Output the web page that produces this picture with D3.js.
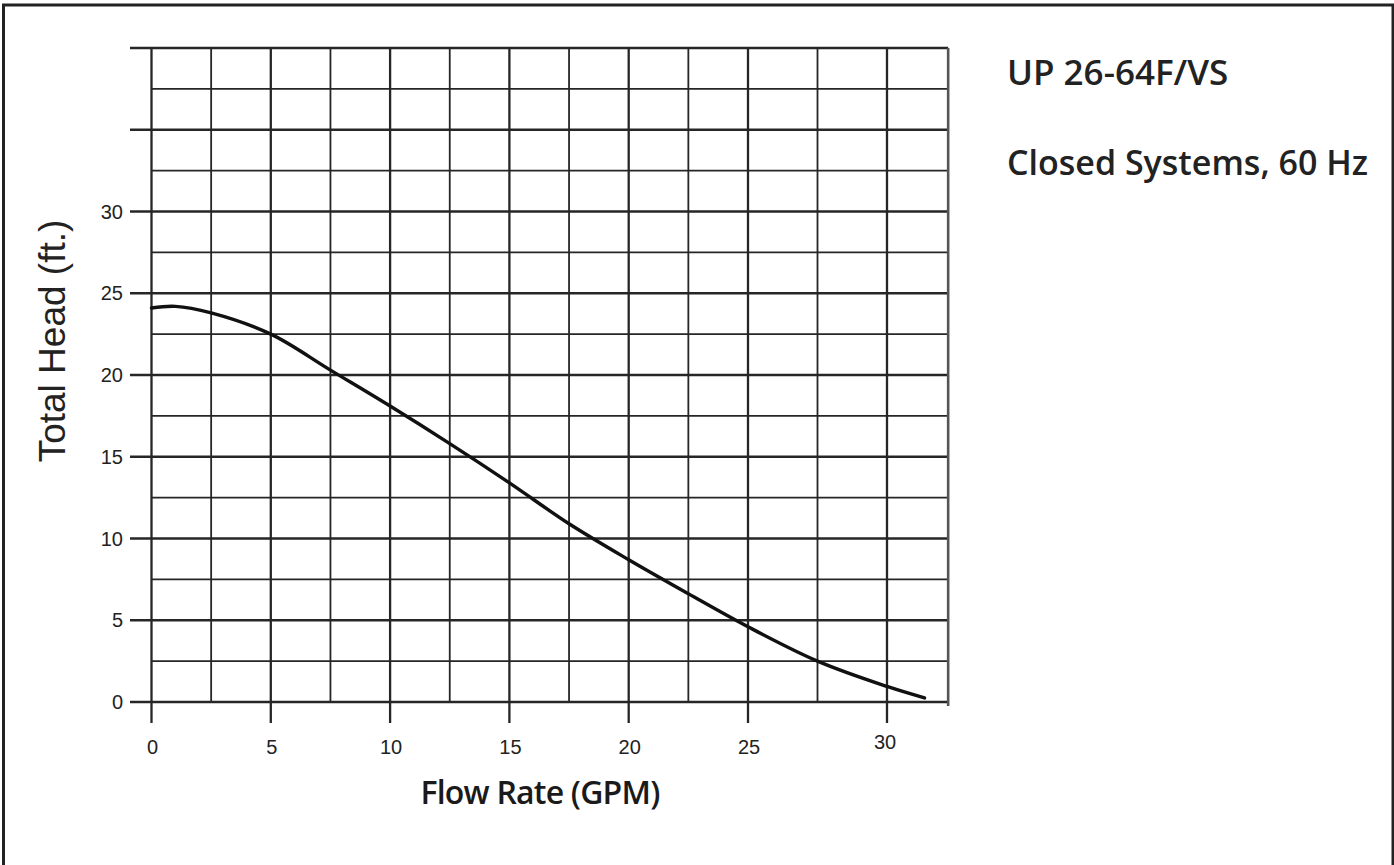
<!DOCTYPE html>
<html><head><meta charset="utf-8">
<script src="https://cdn.jsdelivr.net/npm/d3@7"></script>
<style>html,body{margin:0;padding:0;background:#fff;overflow:hidden}</style>
</head><body><svg id="chart" width="1394" height="865"></svg>
<script>
// ---- data ----
const flowGPM = [0, 1, 2.5, 5, 7.5, 10, 12.5, 15, 17.5, 20, 22.5, 25, 27.5, 30, 31.35];
const headFt  = [24.1, 24.2, 23.8, 22.5, 20.3, 18.1, 15.8, 13.4, 10.9, 8.7, 6.62, 4.6, 2.5, 0.95, 0.25];
const xTickValues = [0, 5, 10, 15, 20, 25, 30];
const xTickLabels = ["0", "5", "10", "15", "20", "25", "30"];
const yTickValues = [0, 5, 10, 15, 20, 25, 30];
const yTickLabels = ["0", "5", "10", "15", "20", "25", "30"];
const xGridValues = [0, 2.5, 5, 7.5, 10, 12.5, 15, 17.5, 20, 22.5, 25, 27.5, 30];
const yGridValues = [0, 2.5, 5, 7.5, 10, 12.5, 15, 17.5, 20, 22.5, 25, 27.5, 30, 32.5, 35, 37.5, 40];
const yMajorGrid = [0, 5, 10, 15, 20, 25, 30, 35, 40];
const xMax = 32.2, yMax = 40;
const titleLines = ["UP 26-64F/VS", "Closed Systems, 60 Hz"];
const xTitle = "Flow Rate (GPM)";
const yTitle = "Total Head (ft.)";

// ---- scales (the printed grid is slightly stretched past 25 GPM) ----
const x = d3.scaleLinear().domain([0, 25, 30]).range([151.5, 748, 887]);
const y = d3.scaleLinear().domain([0, yMax]).range([702, 48]);

const svg = d3.select("#chart");
const ink = "#262626";

// outer frame
svg.append("rect").attr("x", 3.5).attr("y", 5).attr("width", 1389.5).attr("height", 900)
  .attr("fill", "none").attr("stroke", "#222").attr("stroke-width", 3);

const grid = svg.append("g");
grid.selectAll("line.h").data(yGridValues).join("line")
  .attr("x1", d => yMajorGrid.includes(d) ? 130 : x(0))
  .attr("x2", x(xMax))
  .attr("y1", d => y(d)).attr("y2", d => y(d))
  .attr("stroke", ink)
  .attr("stroke-width", d => yMajorGrid.includes(d) ? 2.3 : 1.8);
grid.selectAll("line.v").data(xGridValues).join("line")
  .attr("x1", d => x(d)).attr("x2", d => x(d))
  .attr("y1", y(yMax))
  .attr("y2", d => xTickValues.includes(d) ? 723 : y(0))
  .attr("stroke", ink)
  .attr("stroke-width", d => xTickValues.includes(d) ? 2.3 : 1.8);
grid.append("line").attr("x1", x(xMax)).attr("x2", x(xMax))
  .attr("y1", y(yMax)).attr("y2", y(0) + 4)
  .attr("stroke", "#555").attr("stroke-width", 2.6);

// y tick labels
svg.append("g").selectAll("text").data(yTickValues).join("text")
  .attr("x", 123).attr("y", d => y(d)).attr("dy", "0.36em")
  .attr("text-anchor", "end")
  .attr("font-family", "Liberation Sans, Arial, sans-serif")
  .attr("font-size", 20).attr("fill", "#222")
  .text((d, i) => yTickLabels[i]);

// x tick labels
svg.append("g").selectAll("text").data(xTickValues).join("text")
  .attr("x", d => x(d) + (d === 30 ? -2 : 1)).attr("y", d => d === 30 ? 742 : 747).attr("dy", "0.36em")
  .attr("text-anchor", "middle")
  .attr("font-family", "Liberation Sans, Arial, sans-serif")
  .attr("font-size", 20).attr("fill", "#222")
  .text((d, i) => xTickLabels[i]);

// curve
const pts = flowGPM.map((q, i) => [q, headFt[i]]);
svg.append("path").datum(pts)
  .attr("fill", "none").attr("stroke", "#111").attr("stroke-width", 3.4)
  .attr("stroke-linecap", "round")
  .attr("d", d3.line().x(d => x(d[0])).y(d => y(d[1])).curve(d3.curveCatmullRom.alpha(0.5)));

// axis titles
svg.append("text").attr("x", 540).attr("y", 804).attr("text-anchor", "middle")
  .attr("font-family", "Open Sans, Noto Sans, sans-serif").attr("font-weight", 600)
  .attr("font-size", 32).attr("fill", "#1a1a1a").attr("letter-spacing", -0.8)
  .text(xTitle);

svg.append("text").attr("transform", "translate(65,341) rotate(-90)")
  .attr("text-anchor", "middle")
  .attr("font-family", "Liberation Sans, Arial, sans-serif")
  .attr("font-size", 37).attr("fill", "#222")
  .text(yTitle);

// title block
svg.append("g").selectAll("text").data(titleLines).join("text")
  .attr("x", 1007).attr("y", (d, i) => i === 0 ? 85 : 175)
  .attr("font-family", "Open Sans, Noto Sans, sans-serif").attr("font-weight", 600)
  .attr("font-size", (d, i) => i === 0 ? 35 : 34).attr("fill", "#222")
  .text(d => d);
</script>
</body></html>
